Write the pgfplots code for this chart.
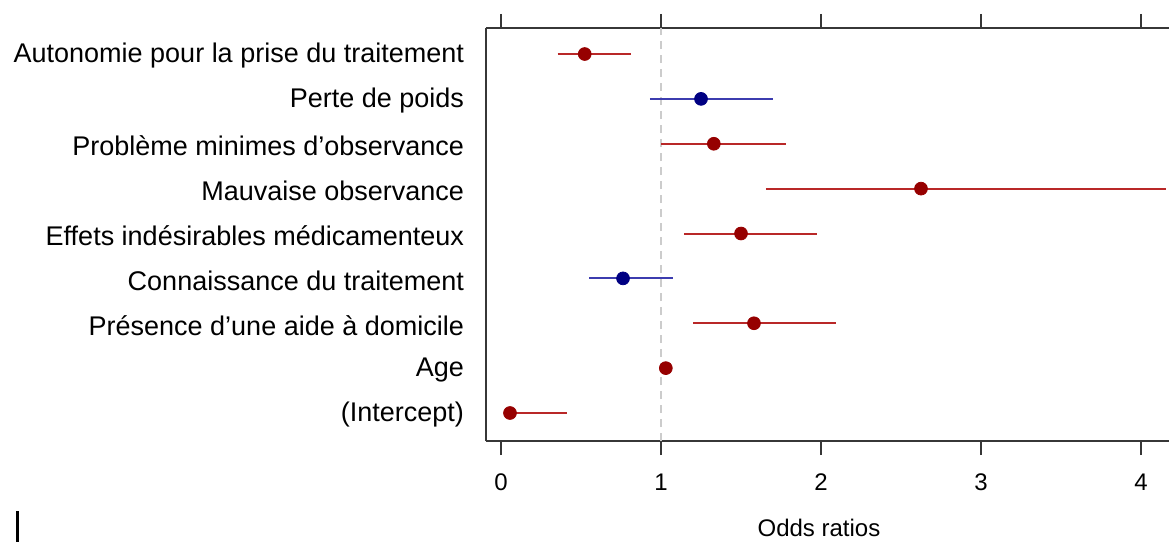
\documentclass[border=0pt]{standalone}
\usepackage{pgfplots}
\pgfplotsset{compat=1.18}
\usepackage{fontspec}
\setmainfont{Liberation Sans}
\definecolor{rline}{RGB}{185,40,40}
\definecolor{rpt}{RGB}{150,0,0}
\definecolor{bline}{RGB}{60,60,175}
\definecolor{bpt}{RGB}{0,0,130}
\definecolor{axgray}{RGB}{55,55,55}
\begin{document}
\begin{tikzpicture}[x=0.5pt,y=0.5pt,font=\fontsize{12}{14}\selectfont]
\begin{axis}[
  at={(243pt,50.5pt)}, anchor=south west,
  scale only axis, width=341.5pt, height=206.5pt,
  xmin=-0.094, xmax=4.175, ymin=0.376, ymax=9.58,
  axis x line*=box, axis y line*=left,
  axis line style={axgray, line width=1pt},
  xtick={0,1,2,3,4}, xtick pos=both,
  tick align=outside, major tick length=7pt,
  x tick style={axgray, line width=1pt},
  ytick={1,2,3,4,5,6,7,8,9},
  yticklabels={(Intercept),Age,Présence d’une aide à domicile,Connaissance du traitement,Effets indésirables médicamenteux,Mauvaise observance,Problème minimes d’observance,Perte de poids,Autonomie pour la prise du traitement},
  y tick style={draw=none},
  x tick label style={font=\fontsize{12}{14}\selectfont, text=black, yshift=-6pt},
  y tick label style={font=\fontsize{13.5}{16}\selectfont, text=black, xshift=-0.5pt, yshift=-1pt},
  /pgf/number format/assume math mode=true,
  xlabel={Odds ratios},
  xlabel style={at={(axis description cs:0.4875,-0.21)}, anchor=center, font=\fontsize{12}{14}\selectfont},
  clip=false,
]
\addplot[gray!40, line width=0.8pt, dash pattern=on 4pt off 3pt] coordinates {(1,0.376) (1,9.58)};
% confidence intervals
\addplot[rline, line width=1pt] coordinates {(0.354,9) (0.81,9)};
\addplot[bline, line width=1pt] coordinates {(0.93,8) (1.70,8)};
\addplot[rline, line width=1pt] coordinates {(1.0,7) (1.78,7)};
\addplot[rline, line width=1pt] coordinates {(1.656,6) (4.156,6)};
\addplot[rline, line width=1pt] coordinates {(1.144,5) (1.975,5)};
\addplot[bline, line width=1pt] coordinates {(0.55,4) (1.075,4)};
\addplot[rline, line width=1pt] coordinates {(1.2,3) (2.094,3)};
\addplot[rline, line width=1pt] coordinates {(1.01,2) (1.05,2)};
\addplot[rline, line width=1pt] coordinates {(0.02,1) (0.41,1)};
% estimates
\addplot[only marks, mark=*, mark size=3.2pt, rpt, mark options={fill=rpt, draw=rpt}] coordinates {
 (0.523,9) (1.33,7) (2.625,6) (1.5,5) (1.581,3) (1.03,2) (0.056,1)};
\addplot[only marks, mark=*, mark size=3.2pt, bpt, mark options={fill=bpt, draw=bpt}] coordinates {
 (1.25,8) (0.7625,4)};
\end{axis}
\fill[black] (16,0) rectangle (19,31);
\pgfresetboundingbox
\path[use as bounding box] (0,0) rectangle (1169,542);
\end{tikzpicture}
\end{document}
